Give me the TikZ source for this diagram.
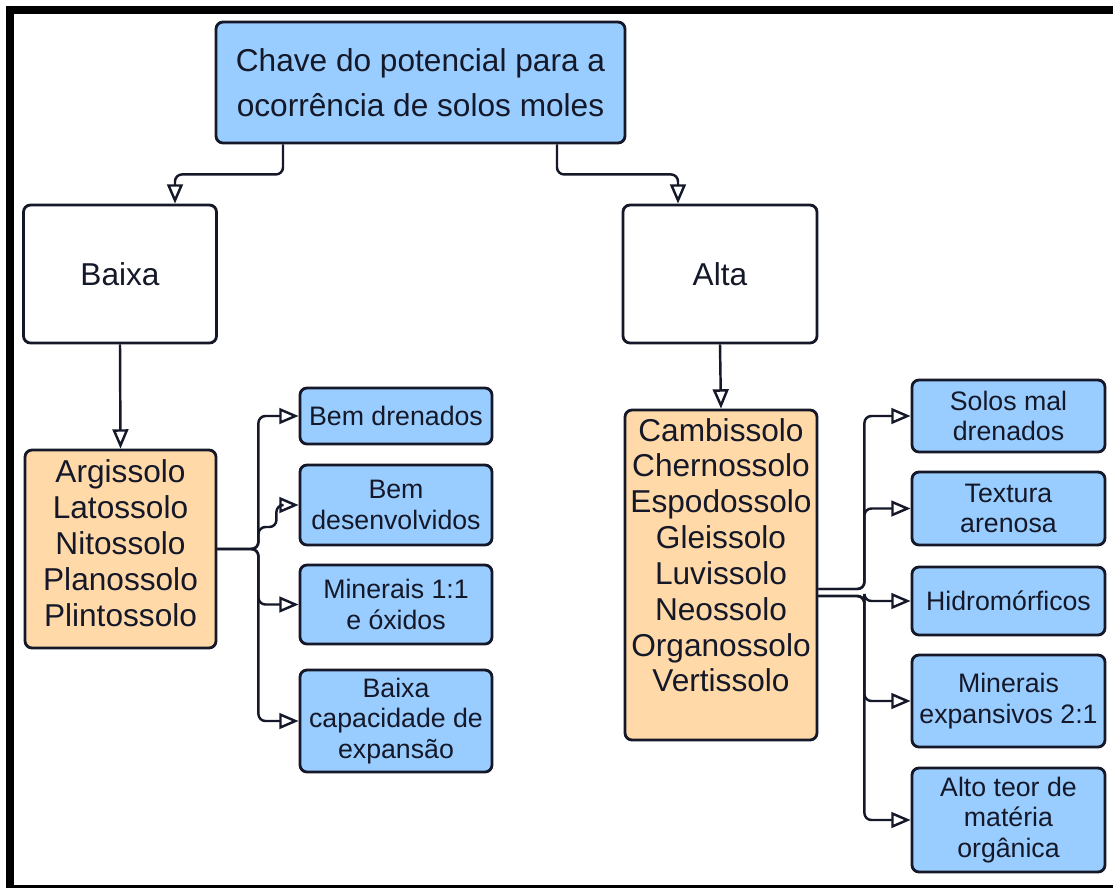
\documentclass[tikz,border=0pt]{standalone}
\usepackage{fontspec}
\setmainfont{Liberation Sans}
\usetikzlibrary{arrows.meta}

\definecolor{boxblue}{RGB}{153,204,255}
\definecolor{boxorange}{RGB}{255,217,168}
\definecolor{ink}{RGB}{20,24,40}

\tikzset{
  box/.style={draw=ink, line width=0.8pt, rounded corners=2pt, align=center, text=ink, inner sep=1pt},
  keybox/.style={box, fill=boxblue, font=\fontsize{9}{12.8}\selectfont},
  levelbox/.style={box, fill=white, font=\fontsize{9}{11}\selectfont},
  soilbox/.style={box, fill=boxorange, font=\fontsize{9}{10.2}\selectfont},
  traitbox/.style={box, fill=boxblue, font=\fontsize{7.6}{8.6}\selectfont},
  conn/.style={draw=ink, line width=0.7pt, rounded corners=2pt, -{Triangle[open,length=5.5pt,width=4.5pt]}},
}

\begin{document}
\begin{tikzpicture}

    \useasboundingbox (0,0) rectangle (11.13,-8.88);

    % frame
    \fill[black] (0.06,-0.06) rectangle (11.13,-0.14);
    \fill[black] (0.06,-0.06) rectangle (0.14,-8.88);
    \fill[black] (0.06,-8.85) rectangle (11.13,-8.88);

    % key
    \node[keybox, minimum width=4.09cm, minimum height=1.21cm] (chave) at (4.205,-0.825)
        {Chave do potencial para a\\ocorrência de solos moles};

    % potential
    \node[levelbox, minimum width=1.93cm, minimum height=1.38cm] (baixa) at (1.2,-2.74) {Baixa};
    \node[levelbox, minimum width=1.94cm, minimum height=1.38cm] (alta) at (7.2,-2.74) {Alta};

    % soil classes
    \node[soilbox, minimum width=1.91cm, minimum height=1.98cm] (argi) at (1.205,-5.49)
        {Argissolo\\Latossolo\\Nitossolo\\Planossolo\\Plintossolo\rule[-0.12cm]{0pt}{0pt}};
    \node[soilbox, minimum width=1.92cm, minimum height=3.3cm] (camb) at (7.21,-5.75)
        {Cambissolo\\Chernossolo\\Espodossolo\\Gleissolo\\Luvissolo\\Neossolo\\Organossolo\\Vertissolo\rule[-0.4cm]{0pt}{0pt}};

    % traits, low
    \node[traitbox, minimum width=1.92cm, minimum height=0.56cm] (bd) at (3.96,-4.16) {Bem drenados};
    \node[traitbox, minimum width=1.92cm, minimum height=0.80cm] (bdes) at (3.96,-5.05) {Bem\\desenvolvidos};
    \node[traitbox, minimum width=1.92cm, minimum height=0.79cm] (min11) at (3.96,-6.045) {Minerais 1:1\\e óxidos};
    \node[traitbox, minimum width=1.92cm, minimum height=1.02cm] (bcap) at (3.96,-7.21) {Baixa\\capacidade de\\expansão};

    % traits, high
    \node[traitbox, minimum width=1.93cm, minimum height=0.72cm] (smd) at (10.085,-4.16) {Solos mal\\drenados};
    \node[traitbox, minimum width=1.93cm, minimum height=0.73cm] (tex) at (10.085,-5.085) {Textura\\arenosa};
    \node[traitbox, minimum width=1.93cm, minimum height=0.68cm] (hid) at (10.085,-6.01) {Hidromórficos};
    \node[traitbox, minimum width=1.93cm, minimum height=0.92cm] (mexp) at (10.085,-7.01) {Minerais\\expansivos 2:1};
    \node[traitbox, minimum width=1.93cm, minimum height=1.04cm] (alto) at (10.085,-8.2) {Alto teor de\\matéria\\orgânica};

    % connectors
    \draw[conn] ([xshift=-1.375cm]chave.south) -- ++(0,-0.3) -| ([xshift=0.55cm]baixa.north);
    \draw[conn] ([xshift=1.365cm]chave.south) -- ++(0,-0.3) -| ([xshift=-0.42cm]alta.north);
    \draw[conn] (baixa.south) -- (argi.north);
    \draw[conn] (alta.south) -- (camb.north);

    \draw[conn] (argi.east) -- ++(0.41,0) |- (bd.west);
    \draw[conn] (argi.east) -- ++(0.41,0) -- ++(0,0.22) -- ++(0.18,0) |- (bdes.west);
    \draw[conn] (argi.east) -- ++(0.41,0) |- (min11.west);
    \draw[conn] (argi.east) -- ++(0.41,0) |- (bcap.west);

    \draw[conn] ([yshift=-0.14cm]camb.east) -- ++(0.46,0) |- (smd.west);
    \draw[conn] ([yshift=-0.14cm]camb.east) -- ++(0.46,0) |- (tex.west);
    \draw[conn] ([yshift=-0.21cm]camb.east) -- ++(0.46,0) |- (hid.west);
    \draw[conn] ([yshift=-0.21cm]camb.east) -- ++(0.46,0) |- (mexp.west);
    \draw[conn] ([yshift=-0.21cm]camb.east) -- ++(0.46,0) |- (alto.west);

\end{tikzpicture}
\end{document}
